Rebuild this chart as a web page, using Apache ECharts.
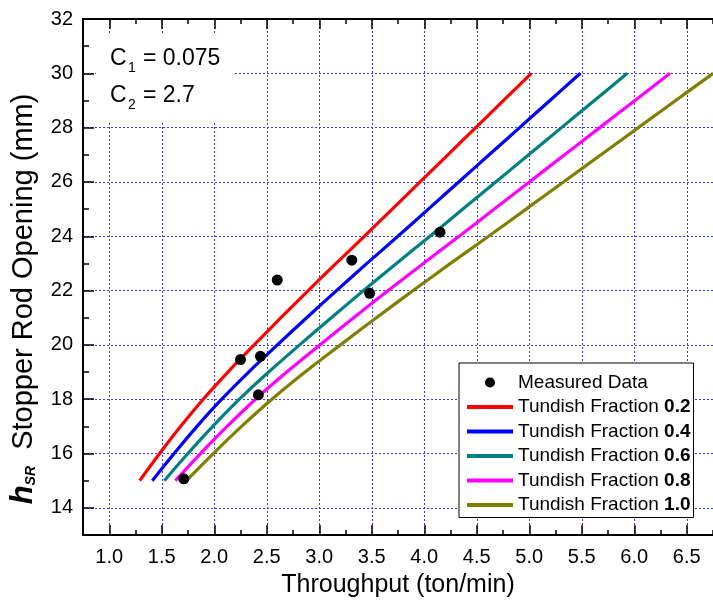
<!DOCTYPE html>
<html>
<head>
<meta charset="utf-8">
<script src="https://cdn.jsdelivr.net/npm/echarts@6/dist/echarts.min.js"></script>
<style>
  html, body { margin: 0; padding: 0; background: #fff; }
  #chart { width: 713px; height: 603px; }
</style>
</head>
<body>
<div id="chart"></div>
<script>
// Stopper rod opening (mm) at which each curve is sampled
const openings = [15, 16, 17, 18, 19, 20, 21, 22, 23, 24, 25, 26, 27, 28, 29, 30];

// Throughput (ton/min) for each tundish fraction, one value per opening above
const fractionLabels = ['0.2', '0.4', '0.6', '0.8', '1.0'];
const throughput02 = [1.29, 1.48, 1.68, 1.895, 2.13, 2.38, 2.635, 2.895, 3.16, 3.43, 3.695, 3.96, 4.225, 4.49, 4.755, 5.02];
const throughput04 = [1.41, 1.618, 1.836, 2.071, 2.328, 2.601, 2.88, 3.164, 3.454, 3.749, 4.039, 4.328, 4.618, 4.908, 5.197, 5.487];
const throughput06 = [1.525, 1.749, 1.986, 2.24, 2.518, 2.813, 3.115, 3.422, 3.735, 4.054, 4.368, 4.681, 4.994, 5.307, 5.62, 5.934];
const throughput08 = [1.629, 1.869, 2.122, 2.393, 2.69, 3.006, 3.328, 3.656, 3.991, 4.332, 4.667, 5.001, 5.336, 5.671, 6.006, 6.34];
const throughput10 = [1.735, 1.991, 2.26, 2.549, 2.865, 3.201, 3.544, 3.894, 4.25, 4.613, 4.97, 5.326, 5.683, 6.039, 6.395, 6.752];
const curveColors = ['#ff0000', '#0000ff', '#008080', '#ff00ff', '#808000'];

// Plant measurements
const measuredThroughput = [1.71, 2.25, 2.44, 2.42, 2.60, 3.31, 3.48, 4.15];
const measuredOpening = [15.07, 19.46, 19.58, 18.16, 22.39, 23.12, 21.90, 24.15];

// Axis ticks
const xMajorTicks = [1.0, 1.5, 2.0, 2.5, 3.0, 3.5, 4.0, 4.5, 5.0, 5.5, 6.0, 6.5];
const xMinorTicks = [0.75, 1.25, 1.75, 2.25, 2.75, 3.25, 3.75, 4.25, 4.75, 5.25, 5.75, 6.25, 6.75];
const yMajorTicks = [14, 16, 18, 20, 22, 24, 26, 28, 30, 32];
const yMinorTicks = [13, 15, 17, 19, 21, 23, 25, 27, 29, 31];

const FONT = 'Liberation Sans, Arial, Helvetica, sans-serif';
const X_MIN = 0.75, X_MAX = 6.75, Y_MIN = 13, Y_MAX = 32;

const chart = echarts.init(document.getElementById('chart'), null, { renderer: 'canvas' });

const curves = [throughput02, throughput04, throughput06, throughput08, throughput10];
const curveSeries = curves.map((q, i) => ({
  name: 'Tundish Fraction ' + fractionLabels[i],
  type: 'line',
  data: q.map((v, k) => [v, openings[k]]),
  symbol: 'none',
  showSymbol: false,
  smooth: 0.4,
  lineStyle: { color: curveColors[i], width: 3.2 },
  itemStyle: { color: curveColors[i] },
  z: 3
}));

const gridLine = { color: '#3a3aff', width: 1, type: [2, 2] };
const black = { color: '#000', width: 1.5 };

function minorAxis(extra) {
  return Object.assign({
    type: 'value',
    gridIndex: 0,
    axisLine: { show: false },
    axisLabel: { show: false },
    splitLine: { show: false }
  }, extra);
}

const option = {
  animation: false,
  backgroundColor: '#fff',
  textStyle: { fontFamily: FONT },
  grid: { left: 83, top: 19, width: 640, height: 519, containLabel: false },
  xAxis: [
    {
      type: 'value', min: X_MIN, max: X_MAX, position: 'bottom',
      axisLine: { show: true, onZero: false, lineStyle: { color: '#000', width: 2 } },
      axisTick: { show: true, inside: true, length: 10, customValues: xMajorTicks, lineStyle: black },
      axisLabel: {
        customValues: xMajorTicks, formatter: v => v.toFixed(1),
        fontSize: 20, color: '#000', margin: 12, fontFamily: FONT
      },
      splitLine: { show: true, lineStyle: gridLine },
      name: 'Throughput (ton/min)', nameLocation: 'middle', nameGap: 38,
      nameTextStyle: { fontSize: 25, color: '#000', fontFamily: FONT }
    },
    minorAxis({ min: X_MIN, max: X_MAX, position: 'bottom',
      axisTick: { show: true, inside: true, length: 5, customValues: xMinorTicks, lineStyle: black } }),
    {
      type: 'value', min: X_MIN, max: X_MAX, position: 'top',
      axisLine: { show: true, onZero: false, lineStyle: { color: '#000', width: 2 } },
      axisTick: { show: true, inside: true, length: 10, customValues: xMajorTicks, lineStyle: black },
      axisLabel: { show: false },
      splitLine: { show: false }
    },
    minorAxis({ min: X_MIN, max: X_MAX, position: 'top',
      axisTick: { show: true, inside: true, length: 5, customValues: xMinorTicks, lineStyle: black } })
  ],
  yAxis: [
    {
      type: 'value', min: Y_MIN, max: Y_MAX, position: 'left',
      axisLine: { show: true, onZero: false, lineStyle: { color: '#000', width: 2 } },
      axisTick: { show: true, inside: true, length: 11, customValues: yMajorTicks, lineStyle: black },
      axisLabel: { customValues: yMajorTicks, fontSize: 20, color: '#000', margin: 10, fontFamily: FONT },
      splitLine: { show: true, lineStyle: gridLine }
    },
    minorAxis({ min: Y_MIN, max: Y_MAX, position: 'left',
      axisTick: { show: true, inside: true, length: 6, customValues: yMinorTicks, lineStyle: black } })
  ],
  legend: {
    orient: 'vertical',
    left: 459, top: 363,
    padding: [10, 3, 3, 8],
    itemGap: 5.5,
    itemWidth: 46, itemHeight: 10,
    backgroundColor: '#fff',
    borderColor: '#000', borderWidth: 1,
    selectedMode: false,
    data: [
      { name: 'Measured Data', icon: 'circle' }
    ].concat(fractionLabels.map(f => ({ name: 'Tundish Fraction ' + f, icon: 'path://M0,0H46V4H0Z' }))),
    formatter: name => {
      const m = name.match(/^(Tundish Fraction )(.+)$/);
      return m ? '{n|' + m[1] + '}{b|' + m[2] + '}' : '{n|' + name + '}';
    },
    textStyle: {
      color: '#000', fontFamily: FONT, fontSize: 19,
      rich: {
        n: { fontSize: 19, lineHeight: 20, color: '#000', fontFamily: FONT },
        b: { fontSize: 19, lineHeight: 20, color: '#000', fontWeight: 'bold', fontFamily: FONT }
      }
    },
    z: 10
  },
  graphic: [
    // parameter box
    { type: 'rect', shape: { x: 96, y: 34, width: 137, height: 88 }, style: { fill: '#fff' }, z: 5, silent: true },
    { type: 'text', x: 110, y: 58.5, z: 6, style: { text: 'C', fontSize: 23, fontFamily: FONT, fill: '#000', verticalAlign: 'middle' } },
    { type: 'text', x: 128, y: 68, z: 6, style: { text: '1', fontSize: 14, fontFamily: FONT, fill: '#000', verticalAlign: 'middle' } },
    { type: 'text', x: 143, y: 58.5, z: 6, style: { text: '= 0.075', fontSize: 23, fontFamily: FONT, fill: '#000', verticalAlign: 'middle' } },
    { type: 'text', x: 110, y: 96, z: 6, style: { text: 'C', fontSize: 23, fontFamily: FONT, fill: '#000', verticalAlign: 'middle' } },
    { type: 'text', x: 128, y: 105.5, z: 6, style: { text: '2', fontSize: 14, fontFamily: FONT, fill: '#000', verticalAlign: 'middle' } },
    { type: 'text', x: 143, y: 96, z: 6, style: { text: '= 2.7', fontSize: 23, fontFamily: FONT, fill: '#000', verticalAlign: 'middle' } },
    // y-axis title
    {
      type: 'text', x: 23.5, y: 299, rotation: Math.PI / 2, z: 6,
      style: {
        text: '{h|h}{sr|SR}{n|  Stopper Rod Opening (mm)}',
        align: 'center', verticalAlign: 'middle',
        rich: {
          h: { fontSize: 31, fontWeight: 'bold', fontStyle: 'italic', lineHeight: 30, fontFamily: FONT, fill: '#000' },
          sr: { fontSize: 14, fontWeight: 'bold', fontStyle: 'italic', lineHeight: 14, verticalAlign: 'bottom', fontFamily: FONT, fill: '#000' },
          n: { fontSize: 29, lineHeight: 30, fontFamily: FONT, fill: '#000' }
        }
      }
    }
  ],
  series: [
    {
      name: 'Measured Data',
      type: 'scatter',
      data: measuredThroughput.map((q, i) => [q, measuredOpening[i]]),
      symbol: 'circle',
      symbolSize: 11,
      itemStyle: { color: '#000', opacity: 1 },
      z: 4
    }
  ].concat(curveSeries)
};

chart.setOption(option);
</script>
</body>
</html>
